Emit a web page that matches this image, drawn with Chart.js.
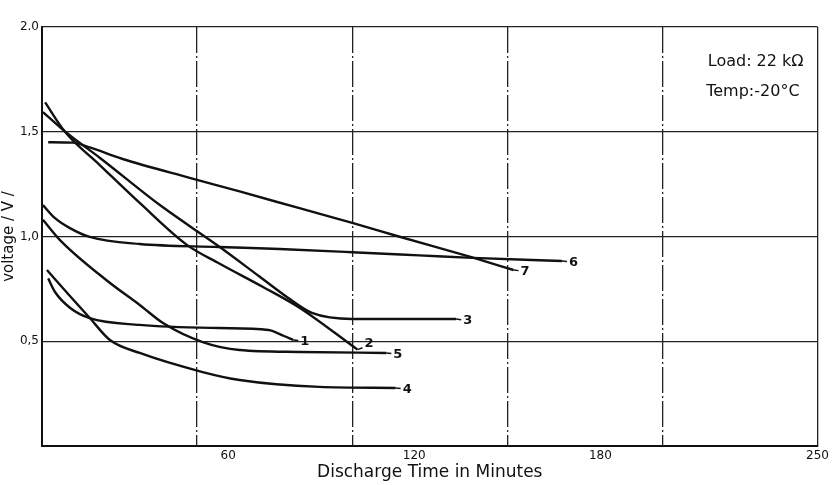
<!DOCTYPE html>
<html>
<head>
<meta charset="utf-8">
<script src="https://cdn.jsdelivr.net/npm/chart.js@4/dist/chart.umd.min.js"></script>
<style>
    html, body { margin: 0; padding: 0; background: #fff; }
    #wrap { width: 832px; height: 485px; }
</style>
</head>
<body>
<div id="wrap"><canvas id="dischargeChart" width="832" height="485"></canvas></div>
<script>
// Discharge curves (minutes / volts)
const curve1Time = [2, 4.2, 9, 15.4, 31.5, 57, 73, 78, 81];
const curve1Volt = [0.80, 0.735, 0.66, 0.61, 0.578, 0.563, 0.554, 0.525, 0.506];

const curve2Time = [1, 7.4, 18.7, 31.5, 46.7, 57.3, 71.1, 83, 101.7];
const curve2Volt = [1.64, 1.50, 1.34, 1.16, 0.96, 0.87, 0.76, 0.66, 0.46];

const curve3Time = [0.3, 8, 18.7, 38, 57.3, 70, 80, 87, 100, 133.5];
const curve3Volt = [1.594, 1.494, 1.375, 1.15, 0.95, 0.81, 0.70, 0.635, 0.606, 0.606];

const curve4Time = [1.6, 9, 15.4, 21.9, 31.5, 51.8, 63.7, 89.4, 114];
const curve4Volt = [0.84, 0.716, 0.611, 0.506, 0.444, 0.353, 0.315, 0.282, 0.277];

const curve5Time = [0.3, 5.8, 20.9, 31.5, 39, 51.8, 63.7, 83, 111];
const curve5Volt = [1.08, 0.983, 0.79, 0.673, 0.587, 0.496, 0.458, 0.449, 0.444];

const curve6Time = [0.3, 4, 9, 15.4, 31.5, 57, 76.6, 100, 121.6, 138.7, 167.6];
const curve6Volt = [1.15, 1.09, 1.04, 0.998, 0.964, 0.95, 0.94, 0.925, 0.91, 0.898, 0.883];

const curve7Time = [2, 10, 15.4, 26, 47.6, 63.7, 83, 100, 115, 138.7, 152];
const curve7Volt = [1.45, 1.448, 1.425, 1.37, 1.28, 1.215, 1.135, 1.065, 1.0, 0.90, 0.84];

const curveNames = ['1', '2', '3', '4', '5', '6', '7'];

// axis ticks: grid lines every 50 min, labels printed at 60/120/180/250
const xGridTicks = [0, 50, 100, 150, 200, 250];
const xLabelTicks = [60, 120, 180, 250];
const yTicks = [0, 0.5, 1.0, 1.5, 2.0];
const yTickLabels = ['', '0,5', '1,0', '1,5', '2.0'];

const infoLines = ['Load: 22 k\u03A9', 'Temp:-20\u00B0C'];

const FONT = "'DejaVu Sans', 'Liberation Sans', sans-serif";

const curves = [
    [curve1Time, curve1Volt],
    [curve2Time, curve2Volt],
    [curve3Time, curve3Volt],
    [curve4Time, curve4Volt],
    [curve5Time, curve5Volt],
    [curve6Time, curve6Volt],
    [curve7Time, curve7Volt]
];

const datasets = curves.map(function (c, i) {
    return {
        label: curveNames[i],
        data: c[0].map(function (t, j) { return { x: t, y: c[1][j] }; }),
        borderColor: '#111',
        borderWidth: 2.4,
        pointRadius: 0,
        fill: false,
        cubicInterpolationMode: 'monotone'
    };
});

// number labels at the end of every curve
const endLabels = {
    id: 'endLabels',
    afterDatasetsDraw(chart) {
        const ctx = chart.ctx;
        ctx.save();
        ctx.fillStyle = '#111';
        ctx.strokeStyle = '#111';
        ctx.lineWidth = 1.5;
        ctx.font = 'bold 13px ' + FONT;
        ctx.textBaseline = 'middle';
        chart.data.datasets.forEach(function (ds, i) {
            const pts = chart.getDatasetMeta(i).data;
            const last = pts[pts.length - 1];
            let dy = 2;
            if (ds.label === '2') dy = -6;
            ctx.beginPath();
            ctx.moveTo(last.x, last.y);
            ctx.lineTo(last.x + 5, last.y + dy * 0.3);
            ctx.stroke();
            ctx.fillText(ds.label, last.x + 7, last.y + dy);
        });
        ctx.restore();
    }
};

// Load / Temp note in the upper right box
const infoNote = {
    id: 'infoNote',
    afterDraw(chart) {
        const ctx = chart.ctx;
        const a = chart.chartArea;
        ctx.save();
        ctx.fillStyle = '#111';
        ctx.font = '16px ' + FONT;
        ctx.textAlign = 'right';
        ctx.textBaseline = 'middle';
        ctx.fillText(infoLines[0], a.right - 14, a.top + 35);
        ctx.fillText(infoLines[1], a.right - 18, a.top + 65);
        ctx.restore();
    }
};

const chartCtx = document.getElementById('dischargeChart').getContext('2d');
const dischargeChart = new Chart(chartCtx, {
    type: 'line',
    data: { datasets: datasets },
    options: {
        responsive: false,
        animation: false,
        layout: { padding: { top: 27, right: 12, left: 0, bottom: 0 } },
        plugins: {
            legend: { display: false },
            tooltip: { enabled: false }
        },
        scales: {
            x: {
                type: 'linear',
                min: 0,
                max: 250,
                afterBuildTicks: function (scale) {
                    const vals = xGridTicks.concat(xLabelTicks.filter(v => xGridTicks.indexOf(v) < 0));
                    vals.sort((a, b) => a - b);
                    scale.ticks = vals.map(v => ({ value: v }));
                },
                afterFit: function (scale) { scale.height = 39; },
                ticks: {
                    autoSkip: false,
                    maxRotation: 0,
                    padding: 3,
                    color: '#111',
                    font: { family: FONT, size: 12 },
                    callback: function (v) { return xLabelTicks.indexOf(v) >= 0 ? String(v) : ''; }
                },
                grid: {
                    drawTicks: false,
                    color: function (c) {
                        return c.tick && xGridTicks.indexOf(c.tick.value) >= 0 ? '#222' : 'rgba(0,0,0,0)';
                    },
                    lineWidth: 1.3
                },
                border: {
                    color: '#111',
                    width: 2,
                    dash: function (c) {
                        return c.tick && c.tick.value < 250 ? [26, 3, 2, 3] : [];
                    }
                },
                title: {
                    display: true,
                    text: 'Discharge Time in Minutes',
                    color: '#111',
                    font: { family: FONT, size: 17 },
                    padding: { top: 0, bottom: 2 }
                }
            },
            y: {
                min: 0,
                max: 2,
                afterBuildTicks: function (scale) {
                    scale.ticks = yTicks.map(v => ({ value: v }));
                },
                afterFit: function (scale) { scale.width = 42; },
                ticks: {
                    padding: 3,
                    color: '#111',
                    font: { family: FONT, size: 12 },
                    callback: function (v) {
                        const i = yTicks.indexOf(v);
                        return i >= 0 ? yTickLabels[i] : '';
                    }
                },
                grid: {
                    drawTicks: false,
                    color: '#222',
                    lineWidth: 1.3
                },
                border: { color: '#111', width: 2 },
                title: {
                    display: true,
                    text: 'voltage / V /',
                    color: '#111',
                    font: { family: FONT, size: 15 },
                    padding: { top: 0, bottom: 2 }
                }
            }
        }
    },
    plugins: [endLabels, infoNote]
});
</script>
</body>
</html>
